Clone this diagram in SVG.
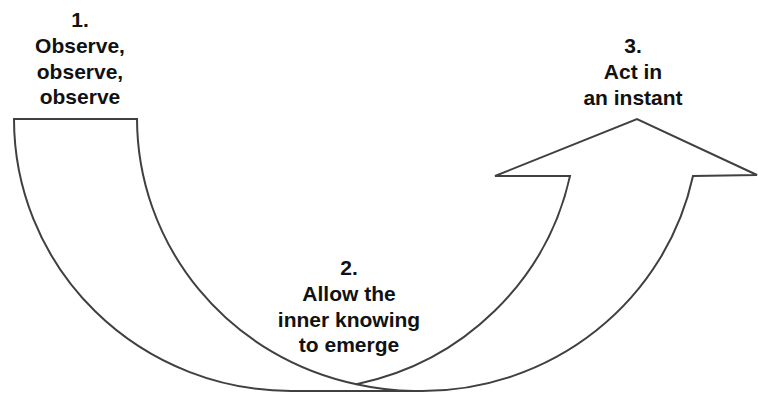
<svg xmlns="http://www.w3.org/2000/svg" width="758" height="394" viewBox="0 0 758 394">
<style>
.shape{fill:#ffffff;stroke:#404040;stroke-width:2;stroke-linejoin:miter}
.line{fill:none;stroke:#404040;stroke-width:2}
.lbl{font-family:"Liberation Sans",Arial,sans-serif;font-weight:bold;font-size:21px;fill:#111111;text-anchor:middle}
</style>
<rect width="758" height="394" fill="#ffffff"/>
<g id="curved-arrow">
<path class="shape" d="M14,119 A277,272 0 0 0 291,391 L422,391 A277,272 0 0 0 693,176 L757,175 L637,119 L495,176 L570,176 A277,272 0 0 1 356.5,384.2 A277,272 0 0 1 137,119 Z"/>
<path class="line" d="M356.5,384.2 A277,272 0 0 0 414,391"/>
</g>
<g id="connectors"></g>
<g id="label-1">
<text class="lbl" x="80" y="27">1.</text>
<text class="lbl" x="80" y="53">Observe,</text>
<text class="lbl" x="80" y="79">observe,</text>
<text class="lbl" x="80" y="104">observe</text>
</g>
<g id="label-2">
<text class="lbl" x="349" y="275">2.</text>
<text class="lbl" x="349" y="301">Allow the</text>
<text class="lbl" x="349" y="327">inner knowing</text>
<text class="lbl" x="349" y="352">to emerge</text>
</g>
<g id="label-3">
<text class="lbl" x="633" y="53">3.</text>
<text class="lbl" x="633" y="79">Act in</text>
<text class="lbl" x="633" y="105">an instant</text>
</g>
</svg>
